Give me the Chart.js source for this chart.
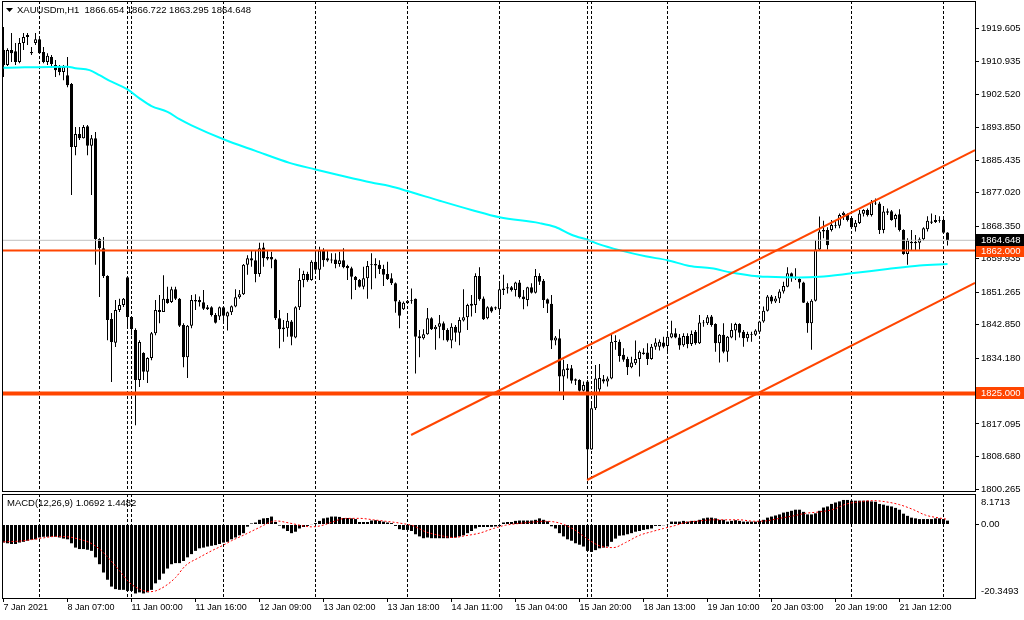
<!DOCTYPE html>
<html>
<head>
<meta charset="utf-8">
<script src="https://cdn.jsdelivr.net/npm/chart.js@4.4.1/dist/chart.umd.min.js"></script>
<style>
  html, body { margin: 0; padding: 0; background: #fff; }
  #wrap { position: relative; width: 1024px; height: 620px; overflow: hidden; }
  #price { position: absolute; left: 0; top: 0; }
  #macd { position: absolute; left: 0; top: 493px; }
</style>
</head>
<body>
<div id="wrap">
  <canvas id="price" width="1024" height="493"></canvas>
  <canvas id="macd" width="1024" height="127"></canvas>
</div>
<script>
// XAUUSDm H1, 7 Jan 15:00 .. 22 Jan 01:00 (237 bars)
const opens = [
  1913.9, 1910.0, 1913.9, 1913.6, 1910.8, 1915.7, 1917.8, 1913.4, 1915.7, 1916.7,
  1913.4, 1910.8, 1912.1, 1910.0, 1909.5, 1908.2, 1907.4, 1905.1, 1888.8, 1892.2,
  1891.1, 1894.2, 1889.1, 1891.1, 1865.0, 1862.6, 1855.4, 1844.3, 1838.1, 1846.6,
  1847.9, 1855.1, 1844.8, 1841.4, 1828.5, 1835.5, 1830.6, 1834.2, 1840.6, 1846.1,
  1846.1, 1849.5, 1848.7, 1852.0, 1849.5, 1842.7, 1834.4, 1842.5, 1848.8, 1849.2,
  1848.6, 1846.8, 1847.3, 1845.3, 1844.9, 1847.3, 1844.9, 1846.0, 1847.5, 1849.9,
  1850.7, 1858.3, 1860.0, 1859.5, 1855.9, 1862.8, 1860.3, 1860.3, 1859.7, 1844.5,
  1842.1, 1841.9, 1843.6, 1839.5, 1847.3, 1854.4, 1855.9, 1854.4, 1859.1, 1857.0,
  1862.0, 1860.0, 1859.7, 1859.7, 1858.5, 1859.5, 1858.0, 1857.4, 1855.2, 1854.4,
  1852.6, 1854.8, 1858.5, 1858.5, 1858.3, 1857.2, 1855.9, 1854.8, 1853.5, 1848.8,
  1846.8, 1848.4, 1849.2, 1849.5, 1839.8, 1839.3, 1840.3, 1844.5, 1841.6, 1842.3,
  1843.2, 1841.4, 1838.7, 1842.3, 1840.7, 1843.9, 1844.7, 1847.7, 1847.9, 1855.4,
  1849.6, 1844.5, 1847.3, 1847.3, 1846.8, 1851.8, 1852.5, 1852.5, 1851.8, 1853.7,
  1850.1, 1849.2, 1852.5, 1851.1, 1855.4, 1854.2, 1849.4, 1848.2, 1838.7, 1839.3,
  1829.4, 1831.5, 1831.5, 1828.7, 1828.5, 1825.7, 1828.1, 1810.5, 1821.2, 1826.0,
  1828.7, 1828.1, 1828.9, 1838.3, 1838.4, 1835.0, 1833.9, 1831.8, 1832.8, 1833.9,
  1835.6, 1835.6, 1833.9, 1837.1, 1837.1, 1838.2, 1837.3, 1839.5, 1840.6, 1839.5,
  1837.5, 1839.9, 1837.8, 1841.0, 1838.0, 1843.4, 1843.2, 1844.9, 1843.0, 1838.0,
  1840.2, 1835.8, 1839.5, 1841.3, 1843.0, 1841.0, 1839.3, 1840.4, 1840.2, 1841.0,
  1843.6, 1846.4, 1850.1, 1848.8, 1849.6, 1851.4, 1852.6, 1856.1, 1854.8, 1854.6,
  1853.7, 1848.5, 1843.2, 1849.0, 1862.3, 1866.9, 1867.3, 1867.3, 1868.6, 1868.4,
  1871.2, 1871.2, 1870.4, 1868.0, 1869.1, 1871.5, 1872.5, 1871.2, 1874.2, 1874.2,
  1867.3, 1872.2, 1872.2, 1870.1, 1871.4, 1867.3, 1861.1, 1864.3, 1863.9, 1864.0,
  1864.9, 1867.5, 1869.2, 1869.4, 1869.9, 1869.9, 1866.654
];
const highs = [
  1919.9, 1914.4, 1918.3, 1915.7, 1917.0, 1918.3, 1918.3, 1914.7, 1918.3, 1917.0,
  1914.7, 1913.1, 1912.6, 1911.3, 1910.0, 1910.0, 1912.1, 1905.4, 1894.0, 1894.0,
  1894.5, 1894.5, 1891.9, 1892.7, 1865.2, 1865.5, 1855.6, 1845.8, 1849.2, 1849.5,
  1849.7, 1855.1, 1845.0, 1841.9, 1838.8, 1835.7, 1834.4, 1840.9, 1849.2, 1850.5,
  1855.6, 1852.6, 1852.6, 1852.6, 1849.7, 1843.2, 1842.7, 1850.5, 1850.7, 1850.1,
  1851.8, 1847.9, 1847.6, 1845.8, 1847.5, 1847.5, 1846.2, 1847.8, 1852.0, 1851.8,
  1858.5, 1860.8, 1862.1, 1862.1, 1864.0, 1864.0, 1862.1, 1861.7, 1859.9, 1846.6,
  1844.0, 1845.8, 1844.0, 1847.6, 1857.4, 1856.8, 1856.5, 1859.5, 1861.3, 1863.0,
  1862.6, 1862.1, 1861.3, 1861.3, 1861.7, 1862.6, 1858.3, 1857.8, 1855.4, 1854.6,
  1857.8, 1859.3, 1861.3, 1860.0, 1859.5, 1858.3, 1859.1, 1856.1, 1853.7, 1849.2,
  1848.8, 1849.2, 1852.2, 1849.6, 1841.4, 1841.6, 1847.1, 1844.7, 1842.7, 1845.3,
  1843.6, 1841.9, 1843.2, 1842.7, 1844.7, 1852.0, 1848.2, 1850.5, 1856.1, 1857.7,
  1850.1, 1847.6, 1847.6, 1847.5, 1853.5, 1855.7, 1853.5, 1852.8, 1853.9, 1854.4,
  1851.8, 1852.6, 1853.5, 1857.2, 1856.1, 1854.6, 1849.6, 1850.5, 1839.9, 1841.6,
  1833.7, 1832.6, 1832.4, 1828.9, 1828.7, 1828.1, 1828.5, 1822.5, 1832.4, 1832.6,
  1829.8, 1829.4, 1840.6, 1840.1, 1839.0, 1836.7, 1834.5, 1834.5, 1838.7, 1836.1,
  1836.7, 1838.0, 1837.8, 1839.3, 1839.0, 1839.7, 1840.4, 1843.8, 1841.9, 1840.4,
  1840.6, 1840.6, 1841.3, 1841.4, 1845.3, 1844.0, 1845.3, 1845.3, 1843.2, 1840.4,
  1843.2, 1839.9, 1843.2, 1843.3, 1843.2, 1841.4, 1841.0, 1841.0, 1841.6, 1843.8,
  1847.5, 1850.5, 1850.5, 1850.2, 1852.0, 1853.9, 1857.7, 1856.3, 1857.4, 1854.8,
  1853.9, 1848.8, 1849.4, 1864.7, 1870.8, 1869.7, 1868.0, 1869.9, 1869.7, 1871.6,
  1872.1, 1871.6, 1870.8, 1869.9, 1872.5, 1872.7, 1872.9, 1875.1, 1875.5, 1874.6,
  1873.5, 1872.9, 1872.5, 1871.5, 1872.7, 1867.5, 1865.2, 1867.3, 1866.0, 1865.4,
  1868.0, 1870.9, 1871.6, 1871.2, 1870.9, 1870.4, 1866.722
];
const lows = [
  1906.9, 1909.8, 1910.8, 1910.0, 1910.5, 1913.9, 1915.2, 1912.6, 1915.2, 1912.9,
  1910.5, 1910.0, 1909.5, 1906.9, 1907.4, 1906.1, 1904.3, 1876.4, 1886.7, 1890.6,
  1891.0, 1886.7, 1876.4, 1858.3, 1850.0, 1854.9, 1838.8, 1828.0, 1837.0, 1846.1,
  1847.4, 1841.9, 1840.1, 1816.8, 1826.7, 1828.5, 1827.7, 1833.6, 1840.1, 1843.2,
  1846.1, 1848.2, 1848.4, 1849.2, 1842.2, 1831.8, 1829.0, 1841.9, 1846.6, 1847.5,
  1846.6, 1846.6, 1844.9, 1843.1, 1844.0, 1843.6, 1841.3, 1845.3, 1847.3, 1849.5,
  1850.5, 1855.7, 1857.8, 1853.8, 1855.2, 1857.8, 1859.5, 1857.4, 1844.0, 1836.7,
  1838.4, 1839.7, 1837.5, 1839.3, 1846.6, 1852.5, 1853.9, 1854.2, 1856.5, 1854.4,
  1857.8, 1859.1, 1858.7, 1857.4, 1857.8, 1857.4, 1854.4, 1849.4, 1851.8, 1852.4,
  1852.0, 1849.5, 1852.0, 1854.8, 1855.9, 1852.8, 1854.4, 1853.1, 1845.9, 1841.9,
  1846.6, 1848.2, 1848.2, 1830.2, 1834.4, 1839.0, 1840.2, 1841.4, 1836.3, 1839.3,
  1838.8, 1838.4, 1836.7, 1838.4, 1837.5, 1843.6, 1841.4, 1844.9, 1845.8, 1849.0,
  1844.0, 1844.2, 1845.9, 1846.6, 1845.3, 1850.5, 1850.9, 1851.4, 1850.1, 1849.6,
  1846.8, 1847.6, 1850.9, 1850.9, 1853.1, 1847.1, 1845.8, 1836.5, 1837.5, 1825.5,
  1823.3, 1828.9, 1827.6, 1827.2, 1825.5, 1825.5, 1802.6, 1810.4, 1820.7, 1825.0,
  1827.6, 1826.8, 1828.7, 1836.3, 1833.2, 1833.2, 1829.8, 1831.5, 1832.4, 1829.4,
  1835.0, 1832.4, 1833.7, 1836.3, 1836.1, 1836.7, 1835.8, 1839.3, 1839.3, 1836.3,
  1837.1, 1836.7, 1837.3, 1837.6, 1837.8, 1842.3, 1842.7, 1842.3, 1835.8, 1833.0,
  1835.4, 1833.2, 1839.3, 1838.8, 1839.5, 1837.1, 1838.4, 1838.4, 1839.9, 1840.7,
  1843.3, 1846.2, 1848.2, 1848.4, 1848.4, 1850.9, 1852.5, 1853.9, 1854.4, 1852.2,
  1848.4, 1840.7, 1836.3, 1848.8, 1862.1, 1865.2, 1862.3, 1866.9, 1867.8, 1867.8,
  1869.9, 1869.5, 1867.8, 1866.9, 1868.9, 1870.8, 1870.8, 1870.8, 1873.8, 1866.3,
  1866.5, 1871.2, 1869.7, 1868.0, 1866.9, 1860.9, 1858.3, 1862.1, 1862.1, 1862.3,
  1864.6, 1866.9, 1868.9, 1869.1, 1869.2, 1866.5, 1863.295
];
const closes = [
  1910.0, 1913.9, 1913.1, 1910.8, 1915.7, 1917.3, 1917.3, 1913.1, 1916.7, 1913.1,
  1910.8, 1912.4, 1910.3, 1908.7, 1908.2, 1909.5, 1904.8, 1888.8, 1892.2, 1891.1,
  1894.0, 1889.1, 1891.1, 1865.0, 1862.6, 1855.4, 1844.0, 1838.3, 1846.6, 1847.9,
  1849.5, 1844.8, 1841.7, 1828.5, 1838.3, 1830.6, 1834.2, 1840.6, 1846.6, 1846.6,
  1849.5, 1848.4, 1852.0, 1849.5, 1842.5, 1834.4, 1842.5, 1849.2, 1849.2, 1848.6,
  1846.9, 1847.3, 1845.3, 1843.3, 1847.3, 1845.1, 1846.0, 1847.6, 1849.9, 1850.7,
  1858.3, 1860.0, 1859.4, 1855.9, 1862.6, 1860.0, 1859.9, 1859.7, 1844.5, 1841.6,
  1841.6, 1843.8, 1839.7, 1847.3, 1854.4, 1855.9, 1854.4, 1859.1, 1857.0, 1862.0,
  1859.5, 1859.4, 1859.4, 1858.5, 1859.5, 1857.7, 1857.4, 1855.2, 1854.4, 1852.6,
  1854.8, 1858.0, 1858.3, 1858.1, 1857.2, 1855.7, 1854.6, 1853.5, 1848.8, 1845.1,
  1848.5, 1849.0, 1849.0, 1839.7, 1839.3, 1840.3, 1844.5, 1841.6, 1842.3, 1843.2,
  1841.4, 1838.7, 1842.3, 1840.7, 1844.0, 1844.7, 1847.9, 1848.2, 1855.4, 1849.4,
  1844.2, 1847.3, 1846.2, 1847.0, 1852.0, 1852.2, 1852.2, 1851.8, 1853.7, 1849.9,
  1849.4, 1852.5, 1851.1, 1855.4, 1853.9, 1849.2, 1848.2, 1838.7, 1839.5, 1829.4,
  1831.3, 1831.1, 1828.3, 1828.3, 1825.7, 1827.2, 1810.5, 1821.2, 1828.9, 1829.0,
  1828.1, 1828.9, 1838.4, 1838.6, 1834.7, 1833.7, 1831.8, 1833.0, 1833.9, 1835.8,
  1835.2, 1833.9, 1837.1, 1838.2, 1838.4, 1837.1, 1839.7, 1840.6, 1839.5, 1837.4,
  1839.9, 1837.8, 1840.4, 1838.0, 1843.4, 1843.2, 1844.7, 1842.7, 1838.0, 1840.2,
  1835.8, 1839.7, 1841.4, 1843.0, 1840.7, 1839.3, 1840.4, 1840.2, 1841.3, 1843.6,
  1846.4, 1850.1, 1848.8, 1849.6, 1851.4, 1852.8, 1856.1, 1854.8, 1855.2, 1853.7,
  1848.5, 1843.2, 1849.0, 1862.3, 1866.9, 1867.3, 1863.4, 1868.6, 1868.4, 1871.2,
  1871.8, 1869.9, 1868.0, 1869.2, 1871.6, 1872.5, 1871.2, 1874.6, 1874.4, 1867.3,
  1872.1, 1871.8, 1869.9, 1871.2, 1867.3, 1861.1, 1864.6, 1863.9, 1864.3, 1864.9,
  1867.8, 1869.7, 1869.5, 1869.9, 1869.7, 1866.6, 1864.648
];

// cyan moving average, read at these bar positions
const maBars = [0, 16, 18, 21.5, 24, 27, 31, 34, 37, 41, 44, 47, 55, 63, 71.5, 78, 84, 92, 96.5, 101,
  109, 117, 124, 134, 138, 142, 146.5, 149, 154, 160.5, 166, 171.5, 177, 182, 187, 191, 199, 204, 212, 221, 229, 236];
const maValues = [1909.3, 1909.6, 1909.2, 1908.7, 1907.4, 1905.7, 1903.7, 1901.4, 1899.4, 1897.9,
  1896.0, 1894.4, 1890.8, 1887.8, 1884.7, 1883.0, 1881.5, 1879.6, 1878.7, 1877.4,
  1874.9, 1872.5, 1870.6, 1869.1, 1868.1, 1866.1, 1864.6, 1863.6, 1862.1, 1860.5,
  1859.5, 1858.0, 1857.4, 1856.3, 1855.5, 1855.2, 1855.0, 1855.2, 1856.1, 1857.2, 1858.1, 1858.5];

// MACD(12,26,9) main histogram, one per bar
const macdMain = [
  -5.0, -5.2, -5.4, -5.4, -5.0, -4.8, -4.5, -4.2, -4.1, -3.6,
  -3.4, -3.4, -3.4, -3.4, -3.6, -3.9, -4.1, -5.2, -6.4, -6.8,
  -6.8, -7.0, -7.3, -9.1, -11.0, -13.3, -15.3, -17.2, -17.9, -18.1,
  -18.1, -18.4, -18.4, -19.1, -18.8, -19.1, -18.8, -18.1, -16.3, -15.3,
  -13.6, -12.2, -11.0, -10.7, -10.7, -10.1, -9.1, -8.2, -7.3, -6.6,
  -6.4, -6.1, -5.9, -5.7, -5.4, -5.0, -4.8, -4.1, -3.6, -3.0,
  -2.4, -0.6, 0.3, 0.55, 1.3, 1.7, 1.8, 2.2, 0.7, -0.3,
  -1.1, -1.8, -2.4, -2.0, -1.1, -0.7, -0.4, -0.1, 0.4, 1.0,
  1.7, 1.9, 2.2, 2.2, 2.1, 1.8, 1.8, 1.7, 1.5, 0.7,
  0.7, 0.7, 1.1, 1.2, 1.0, 0.8, 0.55, 0.4, -0.4, -1.3,
  -1.5, -1.5, -1.8, -2.7, -3.3, -3.8, -3.6, -3.8, -3.8, -3.8,
  -3.8, -3.8, -3.7, -3.6, -3.3, -3.0, -2.4, -1.8, -1.1, -0.7,
  -0.7, -0.7, -0.65, -0.55, -0.4, 0.55, 0.7, 0.7, 1.0, 1.1,
  1.1, 1.1, 1.1, 1.3, 1.7, 1.3, 0.9, -0.5, -1.1, -2.4,
  -3.3, -4.1, -4.5, -5.2, -5.6, -6.1, -7.3, -7.6, -7.1, -6.6,
  -6.4, -6.1, -4.8, -3.9, -3.1, -3.0, -2.7, -2.4, -2.0, -1.8,
  -1.5, -1.3, -1.1, -0.4, -0.4, -0.2, 0.1, 0.8, 0.8, 0.8,
  1.0, 0.8, 1.0, 1.0, 1.3, 1.7, 1.9, 1.9, 1.7, 1.3,
  1.3, 0.8, 1.0, 1.2, 1.0, 0.8, 0.8, 0.8, 0.8, 1.0,
  1.3, 1.9, 2.2, 2.5, 2.8, 3.3, 3.5, 3.8, 4.1, 4.1,
  3.5, 2.8, 2.8, 3.1, 3.8, 4.7, 5.0, 5.7, 6.1, 6.4,
  6.8, 6.8, 6.6, 6.6, 6.6, 6.6, 6.6, 6.4, 6.3, 5.7,
  5.5, 5.2, 5.0, 4.6, 4.1, 3.0, 2.4, 1.9, 1.7, 1.5,
  1.5, 1.5, 1.5, 1.7, 1.7, 1.5, 1.07
];

// MACD signal line, read at these bar positions
const signalBars = [0, 4, 7, 10, 13, 16, 19, 21.5, 24, 26.5, 29, 31.5, 34, 36.5, 38, 40.5, 43, 45.5, 49, 52,
  55, 57, 60.5, 64, 66.5, 68, 71.5, 75, 77, 79.5, 82, 85.5, 89, 92.5, 95.5, 99, 102.5, 105.5, 109, 112.5,
  115.5, 119, 122.5, 125.5, 129, 132.5, 135.5, 139, 142.5, 145.5, 149, 152.5, 155.5, 159, 162, 165, 167.5, 170.5, 174, 177.5,
  180.5, 184, 187.5, 190.5, 194, 197.5, 200.5, 204, 207.5, 210.5, 214, 217.5, 220.5, 224, 227.5, 230.5, 234, 236];
const signalValues = [-4.8, -4.6, -4.2, -3.7, -3.3, -3.4, -4.1, -5.0, -6.8, -9.6,
  -12.8, -16.1, -17.9, -18.6, -18.4, -17.0, -14.7, -11.4, -9.1, -7.3,
  -5.7, -4.5, -2.7, -0.8, 0.55, 1.0, 0.4, -0.4, -0.65, -0.3,
  0.6, 1.7, 1.7, 1.3, 0.9, 0.4, -0.4, -2.0, -3.0, -3.6,
  -3.1, -2.4, -1.1, -0.2, 0.3, 0.7, 0.9, 0.4, -1.3, -3.6,
  -5.9, -6.4, -5.0, -3.0, -2.0, -1.1, -0.4, 0.55, 1.0, 1.3,
  1.3, 1.3, 0.9, 1.0, 1.7, 2.4, 3.1, 3.5, 4.2, 5.6,
  6.3, 6.6, 6.3, 5.5, 4.1, 2.6, 1.8, 1.45];

// axis
const timeLabels = ['7 Jan 2021', '8 Jan 07:00', '11 Jan 00:00', '11 Jan 16:00', '12 Jan 09:00', '13 Jan 02:00',
  '13 Jan 18:00', '14 Jan 11:00', '15 Jan 04:00', '15 Jan 20:00', '18 Jan 13:00', '19 Jan 10:00',
  '20 Jan 03:00', '20 Jan 19:00', '21 Jan 12:00'];
const labelBars = [0, 16, 32, 48, 64, 80, 96, 112, 128, 144, 160, 176, 192, 208, 224];
const separatorBars = [9, 31, 32, 55, 78, 101, 124, 146, 147, 166, 189, 212, 235];
const priceTicks = [1919.605, 1910.935, 1902.520, 1893.850, 1885.435, 1877.020, 1868.350, 1859.935,
  1851.265, 1842.850, 1834.180, 1825.765, 1817.095, 1808.680, 1800.265];

// drawn objects
const levelHigh = 1862.000;
const levelLow = 1825.000;
const lastPrice = 1864.648;
const upperTrendBars = [101.9, 242.875];
const upperTrendPrices = [1814.25, 1888.0];
const lowerTrendBars = [145.9, 242.875];
const lowerTrendPrices = [1802.6, 1853.6];

const FONT = "'Liberation Sans', Arial, sans-serif";
const ORANGE = '#ff4500';
const xMin = -0.375, xMax = 242.875;
const priceMin = 1799.75, priceMax = 1926.6;

const idx = opens.map((_, i) => i);
const pts = (xs, ys) => xs.map((x, i) => ({x: x, y: ys[i]}));
const flat = v => [{x: xMin, y: v}, {x: xMax, y: v}];

const frame = {
  id: 'frame',
  afterDraw(chart) {
    const {ctx, chartArea: a} = chart;
    ctx.save();
    ctx.strokeStyle = '#000';
    ctx.lineWidth = 1;
    ctx.strokeRect(a.left + 0.5, a.top + 0.5, a.right - a.left, a.bottom - a.top);
    ctx.restore();
  }
};

const header = {
  id: 'header',
  afterDraw(chart, args, opts) {
    const ctx = chart.ctx;
    ctx.save();
    ctx.fillStyle = '#000';
    if (opts.arrow) {
      ctx.beginPath();
      ctx.moveTo(6, 8); ctx.lineTo(13, 8); ctx.lineTo(9.5, 12);
      ctx.closePath();
      ctx.fill();
    }
    ctx.font = '9.5px ' + FONT;
    ctx.textBaseline = 'middle';
    ctx.fillText(opts.text, opts.x, opts.y);
    ctx.restore();
  }
};

const priceTags = {
  id: 'priceTags',
  afterDraw(chart) {
    const {ctx, chartArea: a} = chart;
    const y = chart.scales.y;
    const tags = [[levelLow, ORANGE], [levelHigh, ORANGE], [lastPrice, '#000']];
    ctx.save();
    ctx.font = '9.5px ' + FONT;
    ctx.textBaseline = 'middle';
    tags.forEach(([v, bg]) => {
      const py = Math.round(y.getPixelForValue(v));
      ctx.fillStyle = bg;
      ctx.fillRect(a.right + 1, py - 6, 48, 12);
      ctx.fillStyle = '#fff';
      ctx.fillText(v.toFixed(3), a.right + 6, py + 0.5);
    });
    ctx.restore();
  }
};

const macdEnds = {
  id: 'macdEnds',
  afterDraw(chart) {
    const {ctx, chartArea: a} = chart;
    ctx.save();
    ctx.fillStyle = '#000';
    ctx.font = '9.5px ' + FONT;
    ctx.textBaseline = 'middle';
    ctx.fillText('8.1713', a.right + 6, a.top + 8);
    ctx.fillText('-20.3493', a.right + 6, a.bottom - 7);
    ctx.restore();
  }
};

// keep the plot area to the frame, no room reserved for end labels
const fitRight = s => { s.width = 49; s.paddingTop = 0; s.paddingBottom = 0; };

const sepAxis = {
  type: 'linear', min: xMin, max: xMax, offset: false,
  afterFit: s => { s.height = 0; s.paddingLeft = 0; s.paddingRight = 0; },
  afterBuildTicks: s => { s.ticks = separatorBars.map(v => ({value: v})); },
  ticks: { display: false },
  grid: { drawTicks: false, color: '#000', lineWidth: 1, offset: false },
  border: { display: false, dash: [3, 2] }
};

new Chart(document.getElementById('price'), {
  type: 'bar',
  data: {
    datasets: [
      {
        type: 'line', data: pts(upperTrendBars, upperTrendPrices),
        borderColor: ORANGE, borderWidth: 2, pointRadius: 0, order: 1
      },
      {
        type: 'line', data: pts(lowerTrendBars, lowerTrendPrices),
        borderColor: ORANGE, borderWidth: 2, pointRadius: 0, order: 1
      },
      {
        type: 'line', data: flat(levelLow),
        borderColor: ORANGE, borderWidth: 4, pointRadius: 0, order: 2
      },
      {
        type: 'line', data: flat(levelHigh),
        borderColor: ORANGE, borderWidth: 2, pointRadius: 0, order: 2
      },
      {
        type: 'line', data: flat(lastPrice),
        borderColor: '#c0c0c0', borderWidth: 1, pointRadius: 0, order: 3
      },
      {
        type: 'line', data: pts(maBars, maValues),
        borderColor: '#00ffff', borderWidth: 2, pointRadius: 0,
        cubicInterpolationMode: 'monotone', order: 4
      },
      {
        data: idx.map(i => ({x: i, y: [opens[i], closes[i]]})),
        backgroundColor: idx.map(i => closes[i] >= opens[i] ? '#ffffff' : '#000000'),
        borderColor: '#000', borderWidth: 1, borderSkipped: false,
        barThickness: 3, grouped: false, inflateAmount: 0, order: 5
      },
      {
        data: idx.map(i => ({x: i, y: [lows[i], highs[i]]})),
        backgroundColor: '#000', borderWidth: 0,
        barThickness: 1, grouped: false, inflateAmount: 0, order: 6
      }
    ]
  },
  options: {
    responsive: false,
    animation: false,
    devicePixelRatio: 1,
    events: [],
    layout: { padding: { left: 2, top: 1, right: 0, bottom: 2 } },
    plugins: {
      legend: { display: false },
      tooltip: { enabled: false },
      header: {
        arrow: true, x: 17, y: 10,
        text: 'XAUUSDm,H1  ' + [opens, highs, lows, closes].map(a => a[a.length - 1].toFixed(3)).join(' ')
      }
    },
    scales: {
      x: sepAxis,
      y: {
        position: 'right', min: priceMin, max: priceMax,
        afterFit: fitRight,
        afterBuildTicks: s => { s.ticks = priceTicks.map(v => ({value: v})); },
        ticks: { callback: v => v.toFixed(3), font: { family: FONT, size: 9.5 }, color: '#000', padding: 2, autoSkip: false },
        grid: { drawOnChartArea: false, drawTicks: true, tickLength: 4, color: '#000' },
        border: { display: true, color: '#000' }
      }
    }
  },
  plugins: [frame, header, priceTags]
});

new Chart(document.getElementById('macd'), {
  type: 'bar',
  data: {
    datasets: [
      {
        type: 'line', data: pts(signalBars, signalValues),
        borderColor: '#ff0000', borderWidth: 1, borderDash: [2, 2], pointRadius: 0,
        cubicInterpolationMode: 'monotone', order: 1
      },
      {
        data: idx.map(i => ({x: i, y: macdMain[i]})),
        backgroundColor: '#000', borderWidth: 0,
        barThickness: 3, grouped: false, inflateAmount: 0, order: 2
      }
    ]
  },
  options: {
    responsive: false,
    animation: false,
    devicePixelRatio: 1,
    events: [],
    layout: { padding: { left: 2, top: 1, right: 0, bottom: 0 } },
    plugins: {
      legend: { display: false },
      tooltip: { enabled: false },
      header: { arrow: false, x: 7, y: 10, text: 'MACD(12,26,9) 1.0692 1.4482' }
    },
    scales: {
      x: sepAxis,
      xLab: {
        type: 'linear', position: 'bottom', min: xMin, max: xMax, offset: false,
        afterFit: s => { s.height = 22; s.paddingLeft = 0; s.paddingRight = 0; },
        afterBuildTicks: s => { s.ticks = labelBars.map(v => ({value: v})); },
        ticks: {
          callback: (v, i) => timeLabels[i], align: 'start', maxRotation: 0, autoSkip: false,
          font: { family: FONT, size: 9 }, color: '#000', padding: 0
        },
        grid: { drawOnChartArea: false, drawTicks: true, tickLength: 4, color: '#000', offset: false },
        border: { display: true, color: '#000' }
      },
      y: {
        // window a little wider than the 8.1713 / -20.3493 extremes, as in the terminal
        position: 'right', min: -20.36, max: 8.45,
        afterFit: fitRight,
        afterBuildTicks: s => { s.ticks = [{value: 0}]; },
        ticks: { callback: () => '0.00', font: { family: FONT, size: 9.5 }, color: '#000', padding: 2 },
        grid: { drawOnChartArea: false, drawTicks: true, tickLength: 4, color: '#000' },
        border: { display: true, color: '#000' }
      }
    }
  },
  plugins: [frame, header, macdEnds]
});
</script>
</body>
</html>
